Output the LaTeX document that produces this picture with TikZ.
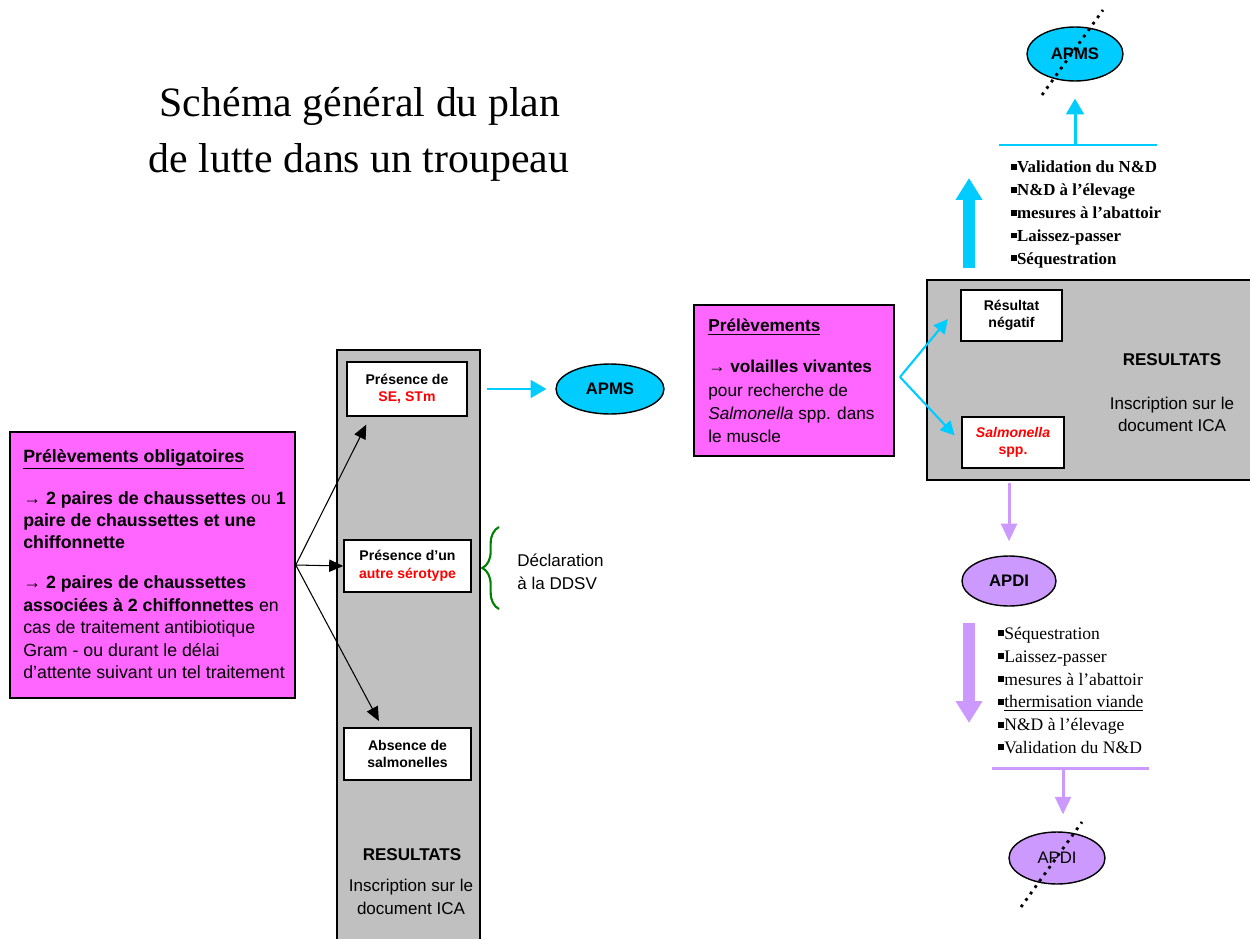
\documentclass[tikz,border=0pt]{standalone}
\usepackage{fontspec}
\setmainfont{Liberation Sans}
\newfontfamily\tnr{Liberation Serif}
\usepackage{xcolor}
\usetikzlibrary{arrows.meta}
\usetikzlibrary{shapes.geometric}
\usetikzlibrary{decorations.pathreplacing}
\usetikzlibrary{calc}

\definecolor{rose}{HTML}{FF66FF}
\definecolor{gris}{HTML}{C0C0C0}
\definecolor{cyanpms}{HTML}{00CCFF}
\definecolor{lilas}{HTML}{CC99FF}
\definecolor{vertdd}{HTML}{008000}
\newcommand{\puce}{\rule[0.18em]{0.34em}{0.34em}}

\begin{document}
\begin{tikzpicture}[x=0.02cm,y=-0.02cm,
    cadre/.style={draw=black,line width=0.9pt,inner sep=0pt},
    rosebox/.style={cadre,fill=rose},
    grisbox/.style={cadre,fill=gris},
    blanc/.style={cadre,fill=white,align=center,font=\fontsize{8}{10}\selectfont\bfseries},
    ovale/.style={ellipse,draw=black,line width=0.8pt,inner sep=0pt,font=\fontsize{9.5}{11}\selectfont\bfseries},
    fleche/.style={-{Triangle[length=8pt,width=7pt]},line width=0.6pt},
    flechecyan/.style={-{Triangle[length=9pt,width=10pt]},cyanpms,line width=1.7pt},
    flechefine/.style={-{Triangle[length=8pt,width=8pt]},cyanpms,line width=1.2pt},
    flechelilas/.style={-{Triangle[length=10pt,width=9pt]},lilas,line width=1.7pt},
    grosse/.style={-{Triangle[length=12.5pt,width=14.5pt]},line width=6.8pt},
    barre/.style={line width=1.6pt,dash pattern=on 1.6pt off 2.9pt},
    liste/.style={anchor=west,align=left,inner sep=0pt}]
        \useasboundingbox (0,0) rectangle (1250,939);

        % --- titre ---
        \node[anchor=base,font=\tnr\fontsize{23.8}{31.7}\selectfont] (titre1) at (360,117) {Schéma général du plan};
        \node[anchor=base,font=\tnr\fontsize{23.8}{31.7}\selectfont] (titre2) at (359,173) {de lutte dans un troupeau};

        % --- prélèvements obligatoires ---
        \node[rosebox,minimum width=5.7cm,minimum height=5.32cm] (preleve) at (152.5,565) {};
        \node[liste,font=\fontsize{10.1}{12.75}\selectfont] (preleveTxt) at (23,564)
          {\textbf{\underline{Prélèvements obligatoires}}\\[11pt]
           → \textbf{2 paires de chaussettes} ou \textbf{1}\\
           \textbf{paire de chaussettes et une}\\
           \textbf{chiffonnette}\\[10pt]
           → \textbf{2 paires de chaussettes}\\
           \textbf{associées à 2 chiffonnettes} en\\
           cas de traitement antibiotique\\
           Gram - ou durant le délai\\
           d’attente suivant un tel traitement};

        % --- colonne résultats ---
        \node[grisbox,minimum width=2.86cm,minimum height=11.9cm] (colonne) at (408.5,647.5) {};
        \node[blanc,minimum width=2.4cm,minimum height=1.08cm] (se) at (407,389)
          {Présence de\\\textcolor{red}{SE, STm}};
        \node[blanc,minimum width=2.54cm,minimum height=1.04cm] (autre) at (407.5,566)
          {Présence d’un\\\textcolor{red}{autre sérotype}};
        \node[blanc,minimum width=2.54cm,minimum height=1.04cm] (absence) at (407.5,754)
          {Absence de\\salmonelles};
        \node[font=\fontsize{9.7}{11}\selectfont\bfseries] (resG) at (412,855) {RESULTATS};
        \node[align=center,font=\fontsize{9.7}{13}\selectfont] (inscG) at (411,897) {Inscription sur le\\document ICA};

        % flèches
        \draw[fleche,shorten >=5pt] (preleve.east) -- ([xshift=0.48cm]se.south west);
        \draw[fleche] (preleve.east) -- (autre.west);
        \draw[fleche,shorten >=4pt] (preleve.east) -- ([xshift=0.78cm]absence.north west);

        % APMS
        \node[ovale,fill=cyanpms,minimum width=2.16cm,minimum height=1cm] (apms) at (610,389) {APMS};
        \draw[flechecyan,shorten <=11pt,shorten >=5pt] (se.east) -- (apms.west);

        % DDSV
        \draw[vertdd,line width=1.2pt,decorate,decoration={brace,amplitude=9.5pt}] (499,609) -- (499,527);
        \node[liste,font=\fontsize{9.7}{13}\selectfont] (ddsv) at (517,572) {Déclaration\\à la DDSV};

        % --- prélèvements à l'abattoir ---
        \node[rosebox,minimum width=4cm,minimum height=3.02cm] (preleveR) at (794,380.5) {};
        \node[liste,font=\fontsize{9.8}{13.3}\selectfont] (preleveRTxt) at (708,381)
          {\textbf{\underline{Prélèvements}}\\[10pt]
           → \textbf{volailles vivantes}\\
           pour recherche de\\
           \textit{Salmonella} spp. dans\\
           le muscle};

        \node[grisbox,minimum width=6.6cm,minimum height=4cm] (resultats) at (1092,380) {};
        \node[blanc,minimum width=2.02cm,minimum height=1.02cm] (negatif) at (1011.5,315.5) {Résultat\\négatif};
        \node[blanc,minimum width=2.04cm,minimum height=1.02cm] (salmo) at (1013,442.5)
          {\textcolor{red}{\textit{Salmonella}}\\\textcolor{red}{spp.}};
        \node[font=\fontsize{9.7}{11}\selectfont\bfseries] (resD) at (1172,360) {RESULTATS};
        \node[align=center,font=\fontsize{9.7}{12.5}\selectfont] (inscD) at (1172,414) {Inscription sur le\\document ICA};

        \coordinate (fourche) at (900,377);
        \draw[flechefine,shorten >=11pt] (fourche) -- ([yshift=-0.3cm]negatif.north west);
        \draw[flechefine,shorten >=5.5pt] (fourche) -- (salmo.west);

        % --- résultat négatif ---
        \coordinate (grosB) at (969,268);
        \coordinate (grosH) at (969,178);
        \draw[grosse,cyanpms] (grosB) -- (grosH);
        \node[liste,font=\tnr\fontsize{9.6}{13}\selectfont\bfseries] (listeH) at (1011,214.5)
          {\puce Validation du N\&D\\
           \puce N\&D à l’élevage\\
           \puce mesures à l’abattoir\\
           \puce Laissez-passer\\
           \puce Séquestration};
        \coordinate (barreHg) at (999,145);
        \coordinate (barreHd) at (1157,145);
        \draw[cyanpms,line width=1.7pt] (barreHg) -- (barreHd);
        \node[ovale,fill=cyanpms,minimum width=1.92cm,minimum height=1.08cm] (apmsH) at (1075,54) {APMS};
        \draw[flechecyan,shorten >=9.6pt] (apmsH.south |- barreHg) -- (apmsH.south);
        \draw[barre] ($(apmsH)+(-33,41)$) -- ($(apmsH)+(28,-44)$);

        % --- Salmonella spp. ---
        \node[ovale,fill=lilas,minimum width=1.88cm,minimum height=1cm] (apdi) at (1009,581) {APDI};
        \draw[flechelilas,shorten <=1.5pt,shorten >=8pt] (resultats.south -| apdi.north) -- (apdi.north);
        \coordinate (grosLH) at (969,623);
        \coordinate (grosLB) at (969,723);
        \draw[grosse,lilas] (grosLH) -- (grosLB);
        \node[liste,font=\tnr\fontsize{10}{13}\selectfont] (listeB) at (998,690.5)
          {\puce Séquestration\\
           \puce Laissez-passer\\
           \puce mesures à l’abattoir\\
           \puce\underline{thermisation viande}\\
           \puce N\&D à l’élevage\\
           \puce Validation du N\&D};
        \coordinate (barreBg) at (992,768);
        \coordinate (barreBd) at (1149,768);
        \coordinate (barreBm) at (1063,768);
        \draw[lilas,line width=1.7pt] (barreBg) -- (barreBd);
        \node[ovale,fill=lilas,font=\fontsize{9.5}{11}\selectfont,minimum width=1.92cm,minimum height=1.04cm] (apdiB) at (1057,858) {APDI};
        \draw[flechelilas,shorten >=9.6pt] (barreBm) -- (barreBm |- apdiB.north);
        \draw[barre] ($(apdiB)+(-36,49)$) -- ($(apdiB)+(25,-36)$);
      \end{tikzpicture}
\end{document}
